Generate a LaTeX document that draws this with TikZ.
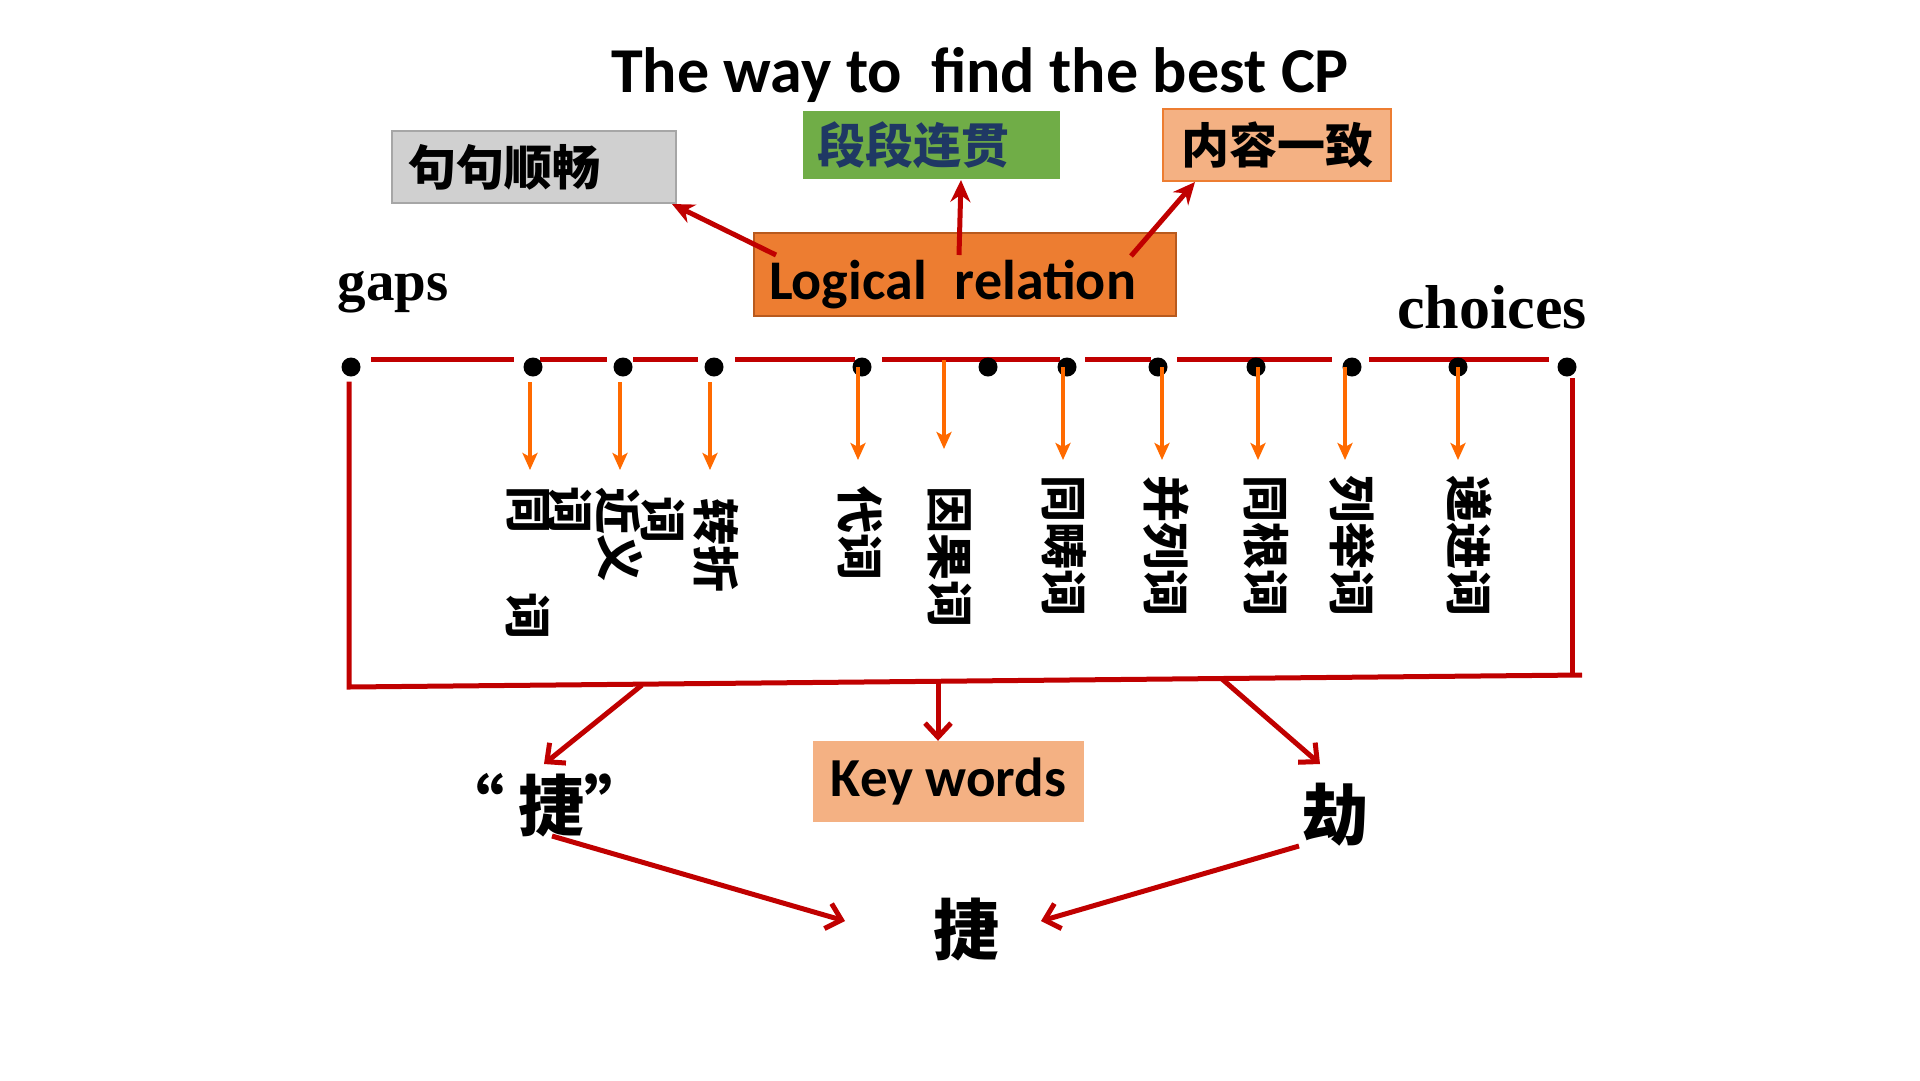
\documentclass[tikz,border=0pt]{standalone}
\usepackage{fontspec}
\setmainfont{Carlito}
\newfontfamily\cjk{Noto Sans CJK SC}
\newfontfamily\serifb{Liberation Serif}
\usetikzlibrary{arrows.meta}
\definecolor{dred}{HTML}{C00000}
\definecolor{oarr}{HTML}{FF6A00}
\definecolor{obox}{HTML}{ED7D31}
\definecolor{obord}{HTML}{B85A1E}
\definecolor{salmon}{HTML}{F4B183}
\definecolor{grn}{HTML}{70AD47}
\definecolor{navy}{HTML}{1F3864}
\definecolor{gfill}{HTML}{D0D0D0}
\definecolor{gbord}{HTML}{A6A6A6}
\tikzset{
  cjkbig/.style={font=\cjk\bfseries\fontsize{48}{52}\selectfont, inner sep=0pt},
  vword/.style={font=\cjk\bfseries\fontsize{47}{50}\selectfont, inner sep=0pt, rotate=-90},
  bigchar/.style={font=\cjk\bfseries\fontsize{66}{70}\selectfont, inner sep=0pt},
  dot/.style={circle, fill=black, minimum size=19pt, inner sep=0pt},
  redline/.style={draw=dred, line width=5pt},
  redbarb/.style={draw=dred, line width=5pt, -{Straight Barb[length=14pt, width=26pt, line width=5pt]}},
  redstealth/.style={draw=dred, line width=5pt, -{Stealth[length=22pt, width=20pt]}},
  orarrow/.style={draw=oarr, line width=3.5pt, -{Stealth[length=17pt, width=15pt, inset=4pt]}},
}
\begin{document}
\begin{tikzpicture}[x=1pt, y=-1pt]
\useasboundingbox (0,0) rectangle (1920,1080);

% title
\node[font=\bfseries\fontsize{64}{70}\selectfont, anchor=base, inner sep=0pt] (title) at (980,92) {The way to\ \ find the best CP};

% top boxes
\node[cjkbig, fill=gfill, draw=gbord, line width=1.2pt, minimum height=72pt, text width=252pt, inner xsep=16pt, align=left] (gray) at (534,167) {句句顺畅};
\node[cjkbig, fill=grn, text=navy, minimum height=68pt, text width=229pt, inner xsep=14pt, align=left] (green) at (931.5,145) {段段连贯};
\node[cjkbig, fill=salmon, draw=obox, line width=1.5pt, minimum height=72pt, minimum width=228pt] (pink) at (1277,145) {内容一致};
\node[font=\bfseries\fontsize{56}{60}\selectfont, fill=obox, draw=obord, line width=1.5pt, minimum height=83pt, text width=392pt, inner xsep=15pt, align=left] (logic) at (965,274.5) {\raisebox{-10pt}[\height][\depth]{Logical\hspace{28pt}relation}};

\coordinate (la1) at (776,255);
\coordinate (la2) at (959,255);
\coordinate (la3) at (1131,256);
\coordinate (ga) at (672,204);
\coordinate (gr) at (961,180);
\coordinate (pa) at (1195,182);
\draw[redstealth] (la1) -- (ga);
\draw[redstealth] (la2) -- (gr);
\draw[redstealth] (la3) -- (pa);

% gaps / choices
\node[font=\serifb\bfseries\fontsize{57}{60}\selectfont, anchor=base, inner sep=0pt] (gaps) at (393,300) {gaps};
\node[font=\serifb\bfseries\fontsize{62}{66}\selectfont, anchor=base, inner sep=0pt] (choices) at (1492,328) {choices};

% timeline segments
\foreach \a/\b in {371/514, 540/607, 633/698, 735/855, 882/1060, 1085/1151, 1177/1332, 1369/1549}
  \draw[redline] (\a,359) -- (\b,359);

% dots
\node[dot] (d1) at (351,367) {};
\node[dot] (d2) at (533,367) {};
\node[dot] (d3) at (623,367) {};
\node[dot] (d4) at (714,367) {};
\node[dot] (d5) at (862,367) {};
\node[dot] (d6) at (988,367) {};
\node[dot] (d7) at (1067,367) {};
\node[dot] (d8) at (1158,367) {};
\node[dot] (d9) at (1256,367) {};
\node[dot] (d10) at (1352,367) {};
\node[dot] (d11) at (1458,367) {};
\node[dot] (d12) at (1567,367) {};

% vertical words
\node[vword] (w1a) at (528,510) {同};
\node[vword] (w1b) at (570,510) {词};
\node[vword] (w1c) at (528,616) {词};
\node[vword] (w2a) at (618,511) {近};
\node[vword] (w2b) at (663,520) {词};
\node[vword] (w2c) at (620,558) {义};
\node[vword] (w3) at (716,545) {转折};
\node[vword] (w4) at (860,533) {代词};
\node[vword] (w5) at (950,557) {因果词};
\node[vword] (w6) at (1064,546) {同畴词};
\node[vword] (w7) at (1166,546) {并列词};
\node[vword] (w8) at (1266,546) {同根词};
\node[vword] (w9) at (1352,546) {列举词};
\node[vword] (w10) at (1469,546) {递进词};

% orange arrows
\draw[orarrow] (530,382) -- (530,470);
\draw[orarrow] (620,382) -- (620,470);
\draw[orarrow] (710,382) -- (710,470);
\draw[orarrow] (d5.center) ++(-4,0) -- ++(0,93);
\draw[orarrow] (944,360) -- (944,449);
\draw[orarrow] (d7.center) ++(-4,0) -- ++(0,93);
\draw[orarrow] (d8.center) ++(4,0) -- ++(0,93);
\draw[orarrow] (d9.center) ++(2,0) -- ++(0,93);
\draw[orarrow] (d10.center) ++(-7,0) -- ++(0,93);
\draw[orarrow] (d11.center) ++(0,0) -- ++(0,93);

% bracket
\draw[redline, line join=miter] (d1.south) ++(-2,5) -- (349,687) -- (1582,675);
\draw[redline] (1572,378) -- (1572,676);

% bottom nodes
\node[font=\bfseries\fontsize{55}{60}\selectfont, fill=salmon, minimum width=271pt, minimum height=81pt, inner sep=0pt] (kw) at (948.5,781.5) {Key words};
\node[bigchar] (q) at (544.5,805) {“\hspace{15pt}捷”};
\node[bigchar] (jie) at (1335,815) {劫};
\node[bigchar] (res) at (966,930) {捷};

\coordinate (b1) at (642,685);
\coordinate (b2) at (938,682);
\coordinate (b3) at (1222,679);
\draw[redbarb] (b1) -- (544,764);
\draw[redbarb] (b2) -- (b2 |- kw.north);
\draw[redbarb] (b3) -- (1320,764);

\coordinate (q1) at (552,836);
\coordinate (j1) at (1299,846);
\draw[redbarb] (q1) -- (845,921);
\draw[redbarb] (j1) -- (1041,921);
\end{tikzpicture}
\end{document}
